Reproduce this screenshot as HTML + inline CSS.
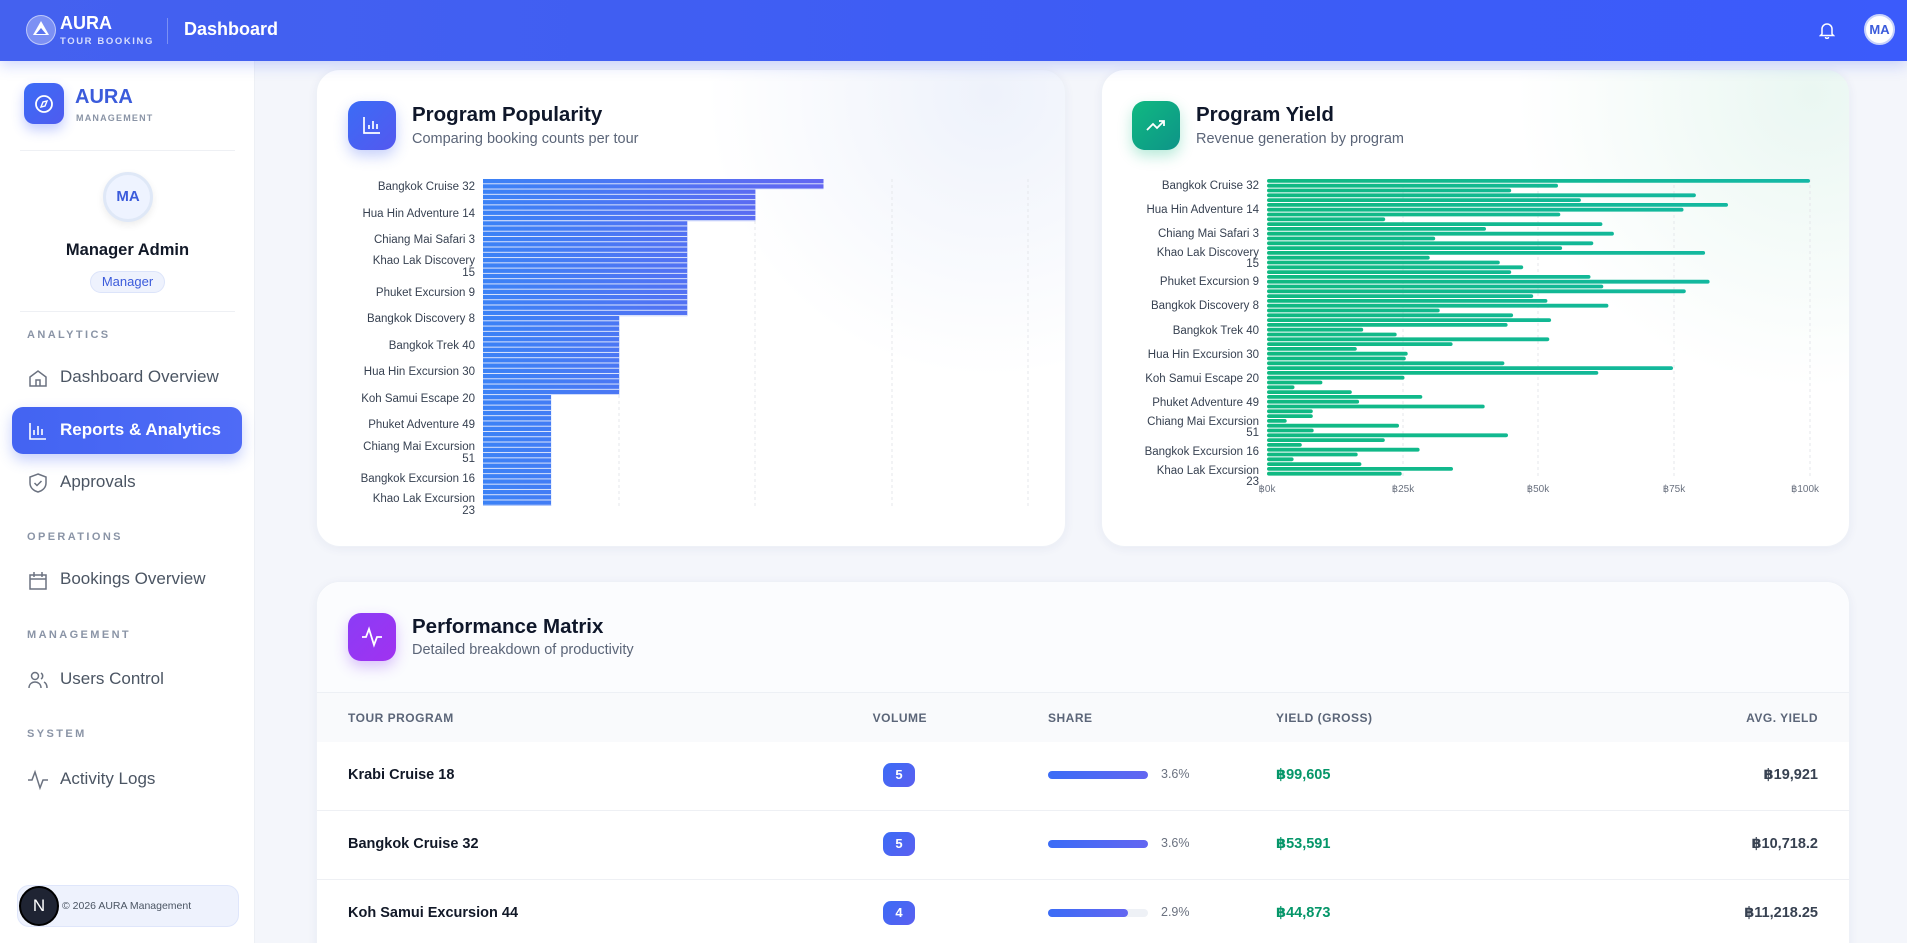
<!DOCTYPE html>
<html><head><meta charset="utf-8"><style>
*{box-sizing:border-box;margin:0;padding:0}
html,body{width:1907px;height:943px;overflow:hidden}
body{background:#f4f6fb;font-family:"Liberation Sans","DejaVu Sans",sans-serif;position:relative;color:#111827}
.abs{position:absolute}
.hdr{left:0;top:0;width:1907px;height:61px;background:linear-gradient(90deg,#4461ef,#3d5cf5 60%,#3b5bfb);box-shadow:0 4px 14px rgba(59,91,251,.25);z-index:5}
.side{left:0;top:61px;width:255px;height:882px;background:#fff;border-right:1px solid #edf0f5}
.sec{font-size:11px;letter-spacing:2.4px;color:#8a94a6;font-weight:bold;left:27px}
.nav{left:60px;font-size:17px;color:#4b5563}
.ico{left:27px;width:22px;height:22px}
.card{background:#fff;border-radius:24px;box-shadow:0 2px 10px rgba(30,50,120,.06);border:1px solid #eef1f7}
.ttl{font-size:20.5px;font-weight:bold;color:#0f172a}
.sub{font-size:14.5px;color:#5b6578}
.th{font-size:12px;font-weight:bold;color:#5b6578;letter-spacing:.5px}
.td{font-size:14.5px;font-weight:bold;color:#111827}
</style></head><body>
<div class="abs hdr">
  <div class="abs" style="left:26px;top:15px;width:30px;height:30px;border-radius:50%;background:rgba(255,255,255,.3);border:1px solid rgba(255,255,255,.5)"></div>
  <div class="abs" style="left:33px;top:21px;width:0;height:0;border-left:8px solid transparent;border-right:8px solid transparent;border-bottom:14px solid #fff"></div>
  <div class="abs" style="left:36px;top:28px;width:0;height:0;border-left:5px solid transparent;border-right:5px solid transparent;border-bottom:6px solid #5a74f0"></div>
  <div class="abs" style="left:60px;top:13px;color:#fff;font-weight:bold;font-size:18px">AURA</div>
  <div class="abs" style="left:60px;top:36px;color:#d7defd;font-weight:bold;font-size:9.5px;letter-spacing:1.6px">TOUR BOOKING</div>
  <div class="abs" style="left:167px;top:18px;width:1px;height:26px;background:rgba(255,255,255,.3)"></div>
  <div class="abs" style="left:184px;top:19px;color:#fff;font-weight:bold;font-size:18px">Dashboard</div>
  <svg class="abs" style="left:1819px;top:21px" width="16" height="18" viewBox="0 0 16 18"><path d="M3 13V8a5 5 0 0 1 10 0v5l1.5 1.5h-13z" fill="none" stroke="#fff" stroke-width="1.5"/><path d="M6.5 16a1.5 1.5 0 0 0 3 0" stroke="#fff" fill="none" stroke-width="1.5"/></svg>
  <div class="abs" style="left:1864px;top:14px;width:31px;height:31px;border-radius:50%;background:#fff;border:2px solid #c9d3fb;color:#3b5bdb;font-weight:bold;font-size:13px;text-align:center;line-height:27px">MA</div>
</div>
<div class="abs side">
  <div class="abs" style="left:24px;top:22px;width:40px;height:41px;border-radius:10px;background:linear-gradient(135deg,#3b6cf6,#4f5bef);box-shadow:0 6px 12px rgba(59,91,251,.3)"></div>
  <svg class="abs" style="left:34px;top:33px" width="20" height="20" viewBox="0 0 20 20"><circle cx="10" cy="10" r="8" fill="none" stroke="#fff" stroke-width="1.8"/><path d="M13 7l-2 5-4 1 2-5z" fill="none" stroke="#fff" stroke-width="1.4"/></svg>
  <div class="abs" style="left:75px;top:25px;color:#3b5bdb;font-weight:bold;font-size:20px">AURA</div>
  <div class="abs" style="left:76px;top:52px;color:#8a94a6;font-weight:bold;font-size:9px;letter-spacing:1.2px">MANAGEMENT</div>
  <div class="abs" style="left:20px;top:89px;width:215px;height:1px;background:#eef0f4"></div>
  <div class="abs" style="left:103px;top:111px;width:50px;height:50px;border-radius:50%;background:#eef3ff;border:3px solid #dfe8f7;box-shadow:0 3px 8px rgba(0,0,0,.08);color:#3b5bdb;font-weight:bold;font-size:15px;text-align:center;line-height:44px">MA</div>
  <div class="abs" style="left:0;width:255px;top:180px;text-align:center;font-weight:bold;font-size:16.5px;color:#111827">Manager Admin</div>
  <div class="abs" style="left:90px;top:210px;width:75px;height:22px;border-radius:11px;background:#eef2fd;border:1px solid #dce4fa;color:#3b5bdb;font-size:13px;text-align:center;line-height:20px">Manager</div>
  <div class="abs" style="left:20px;top:250px;width:215px;height:1px;background:#eef0f4"></div>
  <div class="abs sec" style="top:268px">ANALYTICS</div>
  <svg class="abs ico" style="top:306px" viewBox="0 0 22 22"><path d="M3 10l8-6 8 6v9H3z M9 19v-6h4v6" fill="none" stroke="#6b7280" stroke-width="1.5"/></svg>
  <div class="abs nav" style="top:306px">Dashboard Overview</div>
  <div class="abs" style="left:12px;top:346px;width:230px;height:47px;border-radius:11px;background:linear-gradient(90deg,#4364f2,#4f6bf6);box-shadow:0 6px 14px rgba(67,100,242,.3)"></div>
  <svg class="abs ico" style="top:359px" viewBox="0 0 22 22"><path d="M3 3v16h16 M7 15v-5 M11 15v-9 M15 15v-6" fill="none" stroke="#fff" stroke-width="1.6"/></svg>
  <div class="abs nav" style="top:359px;color:#fff;font-weight:bold">Reports &amp; Analytics</div>
  <svg class="abs ico" style="top:411px" viewBox="0 0 22 22"><path d="M11 2l8 3v6c0 5-4 8-8 9-4-1-8-4-8-9V5z M7.5 11l2.5 2.5 4.5-4.5" fill="none" stroke="#6b7280" stroke-width="1.5"/></svg>
  <div class="abs nav" style="top:411px">Approvals</div>
  <div class="abs sec" style="top:470px">OPERATIONS</div>
  <svg class="abs ico" style="top:509px" viewBox="0 0 22 22"><path d="M3 5h16v14H3z M3 9h16 M7 2v5 M15 2v5" fill="none" stroke="#6b7280" stroke-width="1.5"/></svg>
  <div class="abs nav" style="top:508px">Bookings Overview</div>
  <div class="abs sec" style="top:568px">MANAGEMENT</div>
  <svg class="abs ico" style="top:608px" viewBox="0 0 22 22"><circle cx="8" cy="7" r="3.5" fill="none" stroke="#6b7280" stroke-width="1.5"/><path d="M2 19c0-4 3-6 6-6s6 2 6 6 M14 4a3.5 3.5 0 0 1 0 6 M17 13c2 1 3 3 3 6" fill="none" stroke="#6b7280" stroke-width="1.5"/></svg>
  <div class="abs nav" style="top:608px">Users Control</div>
  <div class="abs sec" style="top:667px">SYSTEM</div>
  <svg class="abs ico" style="top:708px" viewBox="0 0 22 22"><path d="M1 11h4l3-8 5 16 3-8h5" fill="none" stroke="#6b7280" stroke-width="1.5"/></svg>
  <div class="abs nav" style="top:708px">Activity Logs</div>
  <div class="abs" style="left:17px;top:824px;width:222px;height:42px;border-radius:12px;background:#eef2fd;border:1px solid #dfe6fb"></div>
  <div class="abs" style="left:19px;top:825px;width:40px;height:40px;border-radius:50%;background:#1f2433;border:2px solid #000;color:#fff;font-size:17px;text-align:center;line-height:36px">N</div>
  <div class="abs" style="left:62px;top:839px;font-size:10.5px;color:#4b5563">© 2026 AURA Management</div>
</div>

<div class="abs card" style="left:316px;top:69px;width:750px;height:478px;background:radial-gradient(circle at 90% 5%,#eef2fb,#fff 35%)"></div>
<div class="abs card" style="left:1101px;top:69px;width:749px;height:478px;background:radial-gradient(circle at 95% 5%,#eaf7f2,#fff 35%)"></div>
<div class="abs card" style="left:316px;top:581px;width:1534px;height:400px"></div>
<div class="abs" style="left:317px;top:582px;width:1532px;height:110px;border-radius:24px 24px 0 0;background:#fbfcfe"></div>
<div class="abs" style="left:317px;top:692px;width:1532px;height:1px;background:#edf0f5"></div>
<div class="abs" style="left:317px;top:693px;width:1532px;height:49px;background:#f9fafc"></div>
<div class="abs" style="left:317px;top:810px;width:1532px;height:1px;background:#eef0f4"></div>
<div class="abs" style="left:317px;top:879px;width:1532px;height:1px;background:#eef0f4"></div>

<div class="abs" style="left:348px;top:101px;width:48px;height:49px;border-radius:13px;background:linear-gradient(135deg,#3b6cf6,#5458ef);box-shadow:0 6px 14px rgba(67,100,242,.3)"></div>
<svg class="abs" style="left:361px;top:114px" width="22" height="22" viewBox="0 0 22 22"><path d="M3 3v16h16 M8 15v-4 M12 15v-8 M16 15v-5" fill="none" stroke="#fff" stroke-width="1.7"/></svg>
<div class="abs ttl" style="left:412px;top:103px">Program Popularity</div>
<div class="abs sub" style="left:412px;top:131px">Comparing booking counts per tour</div>

<div class="abs" style="left:1132px;top:101px;width:48px;height:49px;border-radius:13px;background:linear-gradient(135deg,#10b981,#0d9488);box-shadow:0 6px 14px rgba(16,185,129,.3)"></div>
<svg class="abs" style="left:1145px;top:114px" width="22" height="22" viewBox="0 0 22 22"><path d="M2 16l6-6 4 4 7-7 M14 7h5v5" fill="none" stroke="#fff" stroke-width="1.8"/></svg>
<div class="abs ttl" style="left:1196px;top:103px">Program Yield</div>
<div class="abs sub" style="left:1196px;top:131px">Revenue generation by program</div>

<div class="abs" style="left:348px;top:613px;width:48px;height:48px;border-radius:13px;background:linear-gradient(135deg,#8b3cf6,#a032f0);box-shadow:0 6px 14px rgba(139,60,246,.3)"></div>
<svg class="abs" style="left:361px;top:626px" width="22" height="22" viewBox="0 0 22 22"><path d="M1 11h4l3-8 5 16 3-8h5" fill="none" stroke="#fff" stroke-width="1.8"/></svg>
<div class="abs ttl" style="left:412px;top:615px">Performance Matrix</div>
<div class="abs sub" style="left:412px;top:642px">Detailed breakdown of productivity</div>

<svg class="abs" style="left:0;top:0" width="1907" height="943">
<defs>
<linearGradient id="gb" x1="483" x2="824" gradientUnits="userSpaceOnUse"><stop offset="0" stop-color="#3b82f6"/><stop offset="1" stop-color="#6366f1"/></linearGradient>
<linearGradient id="gg" x1="0" x2="543" gradientUnits="userSpaceOnUse"><stop offset="0" stop-color="#10b981"/><stop offset="1" stop-color="#14b8a6"/></linearGradient>
<pattern id="gap" width="10" height="5.27" patternUnits="userSpaceOnUse" y="179"><rect y="4.3" width="10" height="0.97" fill="#dfe6fb"/></pattern>
</defs>
<g stroke="#e5e7eb" stroke-dasharray="3 3">
<line x1="619" y1="179" x2="619" y2="506"/><line x1="755" y1="179" x2="755" y2="506"/><line x1="892" y1="179" x2="892" y2="506"/><line x1="1028" y1="179" x2="1028" y2="506"/>
<line x1="1403" y1="179" x2="1403" y2="478"/><line x1="1538" y1="179" x2="1538" y2="478"/><line x1="1674" y1="179" x2="1674" y2="478"/><line x1="1810" y1="179" x2="1810" y2="478"/>
</g>
<rect x="483" y="179" width="340.5" height="10.5" fill="url(#gb)"/>
<rect x="483" y="189.5" width="272.4" height="31.6" fill="url(#gb)"/>
<rect x="483" y="221.2" width="204.3" height="94.9" fill="url(#gb)"/>
<rect x="483" y="316" width="136.2" height="79" fill="url(#gb)"/>
<rect x="483" y="395" width="68.1" height="111" fill="url(#gb)"/>
<rect x="483" y="179" width="340.5" height="10.5" fill="url(#gap)"/>
<rect x="483" y="189.5" width="272.4" height="31.6" fill="url(#gap)"/>
<rect x="483" y="221.2" width="204.3" height="94.9" fill="url(#gap)"/>
<rect x="483" y="316" width="136.2" height="79" fill="url(#gap)"/>
<rect x="483" y="395" width="68.1" height="111" fill="url(#gap)"/>
<g transform="translate(1267,179)" fill="url(#gg)">
<rect y="0" width="543" height="3.8" rx="1.9"/><rect y="4.8" width="291" height="3.8" rx="1.9"/><rect y="9.6" width="244.2" height="3.8" rx="1.9"/><rect y="14.4" width="428.9" height="3.8" rx="1.9"/><rect y="19.2" width="313.9" height="3.8" rx="1.9"/><rect y="24" width="461" height="3.8" rx="1.9"/><rect y="28.8" width="416.5" height="3.8" rx="1.9"/><rect y="33.6" width="293.3" height="3.8" rx="1.9"/><rect y="38.4" width="118.2" height="3.8" rx="1.9"/><rect y="43.2" width="335.4" height="3.8" rx="1.9"/>
<rect y="48" width="219" height="3.8" rx="1.9"/><rect y="52.8" width="346.9" height="3.8" rx="1.9"/><rect y="57.6" width="168.2" height="3.8" rx="1.9"/><rect y="62.4" width="326.3" height="3.8" rx="1.9"/><rect y="67.2" width="295.1" height="3.8" rx="1.9"/><rect y="72" width="438.1" height="3.8" rx="1.9"/><rect y="76.8" width="162.7" height="3.8" rx="1.9"/><rect y="81.6" width="232.8" height="3.8" rx="1.9"/><rect y="86.4" width="256.2" height="3.8" rx="1.9"/><rect y="91.2" width="244.2" height="3.8" rx="1.9"/>
<rect y="96" width="323.5" height="3.8" rx="1.9"/><rect y="100.8" width="442.6" height="3.8" rx="1.9"/><rect y="105.6" width="336.3" height="3.8" rx="1.9"/><rect y="110.4" width="418.8" height="3.8" rx="1.9"/><rect y="115.2" width="266.2" height="3.8" rx="1.9"/><rect y="120" width="280.4" height="3.8" rx="1.9"/><rect y="124.8" width="341.4" height="3.8" rx="1.9"/><rect y="129.6" width="172.7" height="3.8" rx="1.9"/><rect y="134.4" width="246.1" height="3.8" rx="1.9"/><rect y="139.2" width="284.1" height="3.8" rx="1.9"/>
<rect y="144" width="240.6" height="3.8" rx="1.9"/><rect y="148.8" width="96.2" height="3.8" rx="1.9"/><rect y="153.6" width="129.7" height="3.8" rx="1.9"/><rect y="158.4" width="282.3" height="3.8" rx="1.9"/><rect y="163.2" width="185.6" height="3.8" rx="1.9"/><rect y="168" width="89.8" height="3.8" rx="1.9"/><rect y="172.8" width="140.7" height="3.8" rx="1.9"/><rect y="177.6" width="138.8" height="3.8" rx="1.9"/><rect y="182.4" width="237.4" height="3.8" rx="1.9"/><rect y="187.2" width="406" height="3.8" rx="1.9"/>
<rect y="192" width="331.3" height="3.8" rx="1.9"/><rect y="196.8" width="137.5" height="3.8" rx="1.9"/><rect y="201.6" width="55.4" height="3.8" rx="1.9"/><rect y="206.4" width="27.5" height="3.8" rx="1.9"/><rect y="211.2" width="84.8" height="3.8" rx="1.9"/><rect y="216" width="155.3" height="3.8" rx="1.9"/><rect y="220.8" width="92.1" height="3.8" rx="1.9"/><rect y="225.6" width="217.7" height="3.8" rx="1.9"/><rect y="230.4" width="45.8" height="3.8" rx="1.9"/><rect y="235.2" width="45.8" height="3.8" rx="1.9"/>
<rect y="240" width="19.7" height="3.8" rx="1.9"/><rect y="244.8" width="132" height="3.8" rx="1.9"/><rect y="249.6" width="46.7" height="3.8" rx="1.9"/><rect y="254.4" width="241" height="3.8" rx="1.9"/><rect y="259.2" width="117.8" height="3.8" rx="1.9"/><rect y="264" width="34.8" height="3.8" rx="1.9"/><rect y="268.8" width="152.6" height="3.8" rx="1.9"/><rect y="273.6" width="90.7" height="3.8" rx="1.9"/><rect y="278.4" width="26.6" height="3.8" rx="1.9"/><rect y="283.2" width="94.4" height="3.8" rx="1.9"/>
<rect y="288" width="186" height="3.8" rx="1.9"/><rect y="292.8" width="134.7" height="3.8" rx="1.9"/>
</g>
<g font-family="Liberation Sans, DejaVu Sans, sans-serif" font-size="10" fill="#6b7280" text-anchor="middle">
<text x="1267" y="492">฿0k</text><text x="1403" y="492">฿25k</text><text x="1538" y="492">฿50k</text><text x="1674" y="492">฿75k</text><text x="1805" y="492">฿100k</text>
</g>
<g font-family="Liberation Sans, DejaVu Sans, sans-serif" font-size="11.5" fill="#374151" text-anchor="end">
<text x="475" y="190">Bangkok Cruise 32</text>
<text x="475" y="217">Hua Hin Adventure 14</text>
<text x="475" y="243">Chiang Mai Safari 3</text>
<text x="475" y="264">Khao Lak Discovery</text><text x="475" y="276">15</text>
<text x="475" y="296">Phuket Excursion 9</text>
<text x="475" y="322">Bangkok Discovery 8</text>
<text x="475" y="349">Bangkok Trek 40</text>
<text x="475" y="375">Hua Hin Excursion 30</text>
<text x="475" y="402">Koh Samui Escape 20</text>
<text x="475" y="428">Phuket Adventure 49</text>
<text x="475" y="450">Chiang Mai Excursion</text><text x="475" y="462">51</text>
<text x="475" y="482">Bangkok Excursion 16</text>
<text x="475" y="502">Khao Lak Excursion</text><text x="475" y="514">23</text>
<text x="1259" y="189">Bangkok Cruise 32</text>
<text x="1259" y="213">Hua Hin Adventure 14</text>
<text x="1259" y="237">Chiang Mai Safari 3</text>
<text x="1259" y="256">Khao Lak Discovery</text><text x="1259" y="267">15</text>
<text x="1259" y="285">Phuket Excursion 9</text>
<text x="1259" y="309">Bangkok Discovery 8</text>
<text x="1259" y="334">Bangkok Trek 40</text>
<text x="1259" y="358">Hua Hin Excursion 30</text>
<text x="1259" y="382">Koh Samui Escape 20</text>
<text x="1259" y="406">Phuket Adventure 49</text>
<text x="1259" y="425">Chiang Mai Excursion</text><text x="1259" y="436">51</text>
<text x="1259" y="455">Bangkok Excursion 16</text>
<text x="1259" y="474">Khao Lak Excursion</text><text x="1259" y="485">23</text>
</g>
</svg>

<div class="abs th" style="left:348px;top:711px">TOUR PROGRAM</div>
<div class="abs th" style="left:860px;width:67px;text-align:right;top:711px">VOLUME</div>
<div class="abs th" style="left:1048px;top:711px">SHARE</div>
<div class="abs th" style="left:1276px;top:711px">YIELD (GROSS)</div>
<div class="abs th" style="left:1618px;width:200px;text-align:right;top:711px">AVG. YIELD</div>

<div class="abs td" style="left:348px;top:767px">Krabi Cruise 18</div>
<div class="abs td" style="left:348px;top:836px">Bangkok Cruise 32</div>
<div class="abs td" style="left:348px;top:905px">Koh Samui Excursion 44</div>

<div class="abs" style="left:883px;top:763px;width:32px;height:24px;border-radius:8px;background:linear-gradient(135deg,#3b6cf6,#5b5ff0);color:#fff;font-weight:bold;font-size:13px;text-align:center;line-height:24px">5</div>
<div class="abs" style="left:883px;top:832px;width:32px;height:24px;border-radius:8px;background:linear-gradient(135deg,#3b6cf6,#5b5ff0);color:#fff;font-weight:bold;font-size:13px;text-align:center;line-height:24px">5</div>
<div class="abs" style="left:883px;top:901px;width:32px;height:24px;border-radius:8px;background:linear-gradient(135deg,#3b6cf6,#5b5ff0);color:#fff;font-weight:bold;font-size:13px;text-align:center;line-height:24px">4</div>

<div class="abs" style="left:1048px;top:771px;width:100px;height:8px;border-radius:4px;background:linear-gradient(90deg,#3b6cf6,#6366f1)"></div>
<div class="abs" style="left:1048px;top:840px;width:100px;height:8px;border-radius:4px;background:linear-gradient(90deg,#3b6cf6,#6366f1)"></div>
<div class="abs" style="left:1048px;top:909px;width:100px;height:8px;border-radius:4px;background:#eef1f6"></div>
<div class="abs" style="left:1048px;top:909px;width:80px;height:8px;border-radius:4px;background:linear-gradient(90deg,#3b6cf6,#6366f1)"></div>
<div class="abs" style="left:1161px;top:767px;font-size:12.5px;color:#6b7280">3.6%</div>
<div class="abs" style="left:1161px;top:836px;font-size:12.5px;color:#6b7280">3.6%</div>
<div class="abs" style="left:1161px;top:905px;font-size:12.5px;color:#6b7280">2.9%</div>

<div class="abs td" style="left:1276px;top:767px;color:#059669">฿99,605</div>
<div class="abs td" style="left:1276px;top:836px;color:#059669">฿53,591</div>
<div class="abs td" style="left:1276px;top:905px;color:#059669">฿44,873</div>

<div class="abs" style="left:1618px;width:200px;text-align:right;top:767px;font-size:14.5px;font-weight:bold;color:#374151">฿19,921</div>
<div class="abs" style="left:1618px;width:200px;text-align:right;top:836px;font-size:14.5px;font-weight:bold;color:#374151">฿10,718.2</div>
<div class="abs" style="left:1618px;width:200px;text-align:right;top:905px;font-size:14.5px;font-weight:bold;color:#374151">฿11,218.25</div>
</body></html>
